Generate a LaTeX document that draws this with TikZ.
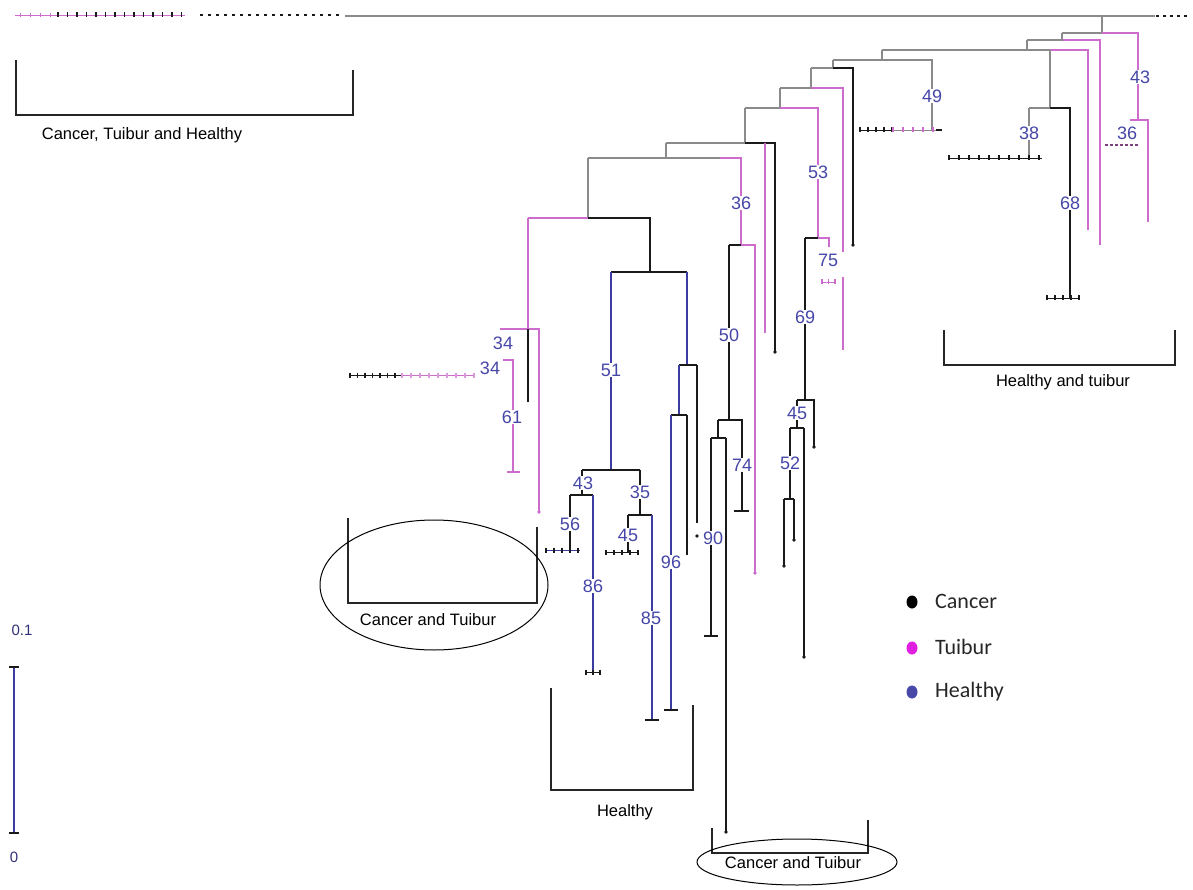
\documentclass[tikz,border=0pt]{standalone}
\usepackage{fontspec}
\setmainfont{Liberation Sans}
\newfontfamily\legendfont{Carlito}
\definecolor{greyln}{HTML}{8A8A8A}
\definecolor{pinkln}{HTML}{CC6CCC}
\definecolor{blueln}{HTML}{3C3CA0}
\definecolor{numcol}{HTML}{4646A8}
\definecolor{blackln}{HTML}{1A1A1A}
\definecolor{dotpink}{HTML}{E020E0}
\definecolor{dotblue}{HTML}{4848A8}

\tikzset{
  gl/.style={draw=greyln, line width=1.4pt},
  pl/.style={draw=pinkln, line width=1.6pt},
  kl/.style={draw=blackln, line width=1.6pt},
  bl/.style={draw=blueln, line width=1.8pt},
  num/.style={text=numcol, fill=white, inner sep=1pt, font=\fontsize{18}{18}\selectfont},
  brk/.style={draw=black!85, line width=1.2pt},
  brtxt/.style={font=\fontsize{16.5}{16.5}\selectfont, text=black, inner sep=0pt},
  legtxt/.style={font=\legendfont\fontsize{22}{22}\selectfont, text=black!85, anchor=west, inner sep=0pt},
}

% a leaf row: thin line with small ticks
% #1 line colour, #2 tick colour, #3 y, #4 x start, #5 x end, #6 second tick x
\newcommand\leafrow[6]{%
  \draw[#1, line width=0.9pt] (#4,#3) -- (#5,#3);
  \foreach \t in {#4,#6,...,#5} \draw[#2, line width=1.1pt] (\t,#3-2.5) -- (\t,#3+2.5);
}
\newcommand\dotend[2][blackln]{\fill[#1] #2 circle (1.8pt);}

\begin{document}
\begin{tikzpicture}[x=1pt,y=-1pt]
\fill[white] (0,0) rectangle (1193,890);
\useasboundingbox (0,0) rectangle (1193,890);

% ---------- top row of leaves ----------
\draw[pinkln, line width=0.9pt] (15,15) -- (58,15);
\foreach \t in {20,30,40,50} \draw[pinkln, line width=1pt] (\t,13) -- (\t,17);
\leafrow{pinkln}{blackln}{15}{58}{185}{67.5}
\draw[blackln, line width=2pt, dash pattern=on 3pt off 5pt] (200,15) -- (343,15);
\draw[gl] (345,16) -- (1155,16);
\draw[blackln, line width=2pt, dash pattern=on 3pt off 4pt] (1156,16) -- (1190,16);

% ---------- right-hand ladder ----------
\draw[gl] (1102,16) -- (1102,33);
\draw[gl] (1062,33) -- (1102,33);
\draw[pl] (1102,33) -- (1138,33) -- (1138,120);
\draw[pl] (1130,120) -- (1148,120) -- (1148,222);
\draw[pinkln!60!black, line width=1.1pt, dash pattern=on 3pt off 2pt] (1105,145) -- (1138,145);

\draw[gl] (1062,33) -- (1062,40);
\draw[gl] (1027,40) -- (1063,40);
\draw[pl] (1063,40) -- (1100,40) -- (1100,245);
\draw[gl] (1027,40) -- (1027,50);
\draw[gl] (882,50) -- (1050,50);
\draw[pl] (1050,50) -- (1088,50) -- (1088,230);
\draw[gl] (1050,50) -- (1050,108);
\draw[gl] (1029,108) -- (1050,108);
\draw[kl] (1050,108) -- (1070,108) -- (1070,298);
\draw[gl] (1029,108) -- (1029,158);
\leafrow{blackln}{blackln}{158}{949}{1042}{959}
\leafrow{blackln}{blackln}{298}{1047}{1080}{1055}

\draw[gl] (882,50) -- (882,60);
\draw[gl] (833,60) -- (932,60) -- (932,130);
\leafrow{blackln}{blackln}{130}{860}{893}{868}
\leafrow{greyln}{pinkln}{130}{893}{942}{903}
\draw[kl] (936,130) -- (942,130);

\draw[gl] (833,60) -- (833,68);
\draw[gl] (811,68) -- (833,68);
\draw[kl] (833,68) -- (853,68) -- (853,245);
\dotend{(853,245)}
\draw[gl] (811,68) -- (811,88);
\draw[gl] (780,88) -- (811,88);
\draw[pl] (811,88) -- (843,88) -- (843,252);
\draw[pl] (843,277) -- (843,350);
\draw[gl] (780,88) -- (780,108);
\draw[gl] (745,108) -- (780,108);
\draw[pl] (780,108) -- (818,108) -- (818,238);
\draw[kl] (805,238) -- (818,238);
\draw[pl] (818,238) -- (829,238) -- (829,247);
\leafrow{pinkln}{pinkln}{282}{822}{835}{828.5}
\draw[kl] (805,238) -- (805,400);

% cluster 45 / 52
\draw[kl] (797,400) -- (814,400) -- (814,447);
\dotend{(814,447)}
\draw[kl] (797,400) -- (797,428);
\draw[kl] (790,428) -- (804,428);
\draw[kl] (790,428) -- (790,499);
\draw[kl] (784,499) -- (794,499);
\draw[kl] (784,499) -- (784,566);
\dotend{(784,566)}
\draw[kl] (794,499) -- (794,540);
\dotend{(794,540)}
\draw[kl] (804,428) -- (804,657);
\dotend{(804,657)}

% ---------- middle ladder ----------
\draw[gl] (745,108) -- (745,143);
\draw[gl] (666,143) -- (745,143);
\draw[kl] (745,143) -- (775,143) -- (775,352);
\dotend{(775,352)}
\draw[pl] (765,143) -- (765,333);
\draw[gl] (666,143) -- (666,158);
\draw[gl] (588,158) -- (720,158);
\draw[pl] (720,158) -- (741,158) -- (741,245);
\draw[kl] (729,245) -- (741,245);
\draw[pl] (741,245) -- (755,245) -- (755,573);
\dotend[pinkln]{(755,573)}
\draw[kl] (729,245) -- (729,420);
\draw[kl] (718,420) -- (742,420) -- (742,511);
\draw[kl] (734,511) -- (749,511);
\draw[kl] (718,420) -- (718,438);
\draw[kl] (711,438) -- (726,438);
\draw[kl] (711,438) -- (711,636);
\draw[kl] (704,636) -- (718,636);
\draw[kl] (726,438) -- (726,832);
\dotend{(726,832)}

% ---------- healthy clade ----------
\draw[gl] (588,158) -- (588,218);
\draw[pl] (528,218) -- (588,218);
\draw[kl] (588,218) -- (650,218) -- (650,272);
\draw[kl] (611,272) -- (687,272);
\draw[bl] (611,272) -- (611,470);
\draw[bl] (687,272) -- (687,365);
\draw[kl] (679,365) -- (697,365);
\draw[bl] (679,365) -- (679,415);
\draw[kl] (671,415) -- (687,415);
\draw[bl] (671,415) -- (671,710);
\draw[kl] (664,710) -- (678,710);
\draw[kl] (687,415) -- (687,555);
\draw[kl] (697,365) -- (697,523);
\dotend{(697,536)}
\draw[kl] (582,470) -- (640,470);
\draw[kl] (640,470) -- (640,515);
\draw[kl] (628,515) -- (652,515);
\draw[kl] (628,515) -- (628,552);
\leafrow{blackln}{blackln}{552}{606}{639}{614}
\draw[bl] (652,515) -- (652,720);
\draw[kl] (645,720) -- (659,720);
\draw[kl] (582,470) -- (582,495);
\draw[kl] (570,495) -- (593,495);
\draw[kl] (570,495) -- (570,550);
\leafrow{blueln}{blackln}{550}{546}{580}{554}
\draw[bl] (593,495) -- (593,672);
\leafrow{blackln}{blackln}{672}{586}{600}{593}

% ---------- left pink clade ----------
\draw[pl] (528,218) -- (528,329);
\draw[pl] (500,329) -- (539,329) -- (539,512);
\dotend[pinkln]{(539,512)}
\draw[kl] (528,329) -- (528,402);
\draw[pl] (503,360) -- (513,360) -- (513,472);
\draw[pl] (507,472) -- (520,472);
\leafrow{blackln}{blackln}{375}{350}{402}{357.5}
\leafrow{pinkln}{pinkln!70}{375}{402}{475}{411}

% ---------- support values ----------
\node[num] (s43a) at (1140,77) {43};
\node[num, fill=none] (s36a) at (1127,133) {36};
\node[num] (s49) at (932,96) {49};
\node[num] (s38) at (1029,133) {38};
\node[num] (s68) at (1070,203) {68};
\node[num] (s53) at (818,172) {53};
\node[num, fill=none] (s75) at (828,260) {75};
\node[num] (s69) at (805,317) {69};
\node[num] (s45a) at (797,413) {45};
\node[num] (s52) at (790,463) {52};
\node[num] (s36b) at (741,203) {36};
\node[num] (s50) at (729,335) {50};
\node[num] (s74) at (742,465) {74};
\node[num] (s90) at (713,538) {90};
\node[num] (s51) at (611,370) {51};
\node[num] (s96) at (671,562) {96};
\node[num] (s35) at (640,492) {35};
\node[num] (s45b) at (628,535) {45};
\node[num] (s85) at (651,618) {85};
\node[num] (s43b) at (583,483) {43};
\node[num] (s56) at (570,524) {56};
\node[num] (s86) at (593,586) {86};
\node[num, fill=none] (s34a) at (503,343) {34};
\node[num, fill=none] (s34b) at (490,368) {34};
\node[num] (s61) at (512,417) {61};

% ---------- group brackets ----------
\draw[brk] (16,60) -- (16,115) -- (353,115) -- (353,70);
\node[brtxt] (gall) at (142,135) {Cancer, Tuibur and Healthy};
\draw[brk] (944,330) -- (944,365) -- (1175,365) -- (1175,330);
\node[brtxt] (ght) at (1063,382) {Healthy and tuibur};
\draw[brk] (551,688) -- (551,790) -- (693,790) -- (693,705);
\node[brtxt] (gh) at (625,812) {Healthy};
\draw[brk] (348,518) -- (348,603) -- (537,603) -- (537,527);
\node[brtxt] (gct1) at (428,620) {Cancer and Tuibur};
\draw[black, line width=1pt] (434,585) ellipse (114pt and 65pt);
\draw[brk] (712,828) -- (712,853) -- (868,853) -- (868,820);
\draw[black, line width=1pt] (797,862) ellipse (100pt and 23pt);
\node[brtxt] (gct2) at (793,863) {Cancer and Tuibur};

% ---------- legend ----------
\fill[black] (912,602) ellipse (5.5pt and 6.5pt);
\fill[dotpink] (912,648) ellipse (5.5pt and 6.5pt);
\fill[dotblue] (912,692) ellipse (5.5pt and 6.5pt);
\node[legtxt] (lc) at (935,601) {Cancer};
\node[legtxt] (lt) at (935,647) {Tuibur};
\node[legtxt] (lh) at (935,692) {Healthy};

% ---------- scale bar ----------
\draw[bl] (14,667) -- (14,833);
\draw[blackln, line width=1.4pt] (9,667) -- (19,667);
\draw[blackln, line width=1.4pt] (9,833) -- (19,833);
\node[text=numcol!70!black, font=\fontsize{15}{15}\selectfont] (sc1) at (22,630) {0.1};
\node[text=numcol!70!black, font=\fontsize{15}{15}\selectfont] (sc0) at (14,857) {0};
\end{tikzpicture}
\end{document}
